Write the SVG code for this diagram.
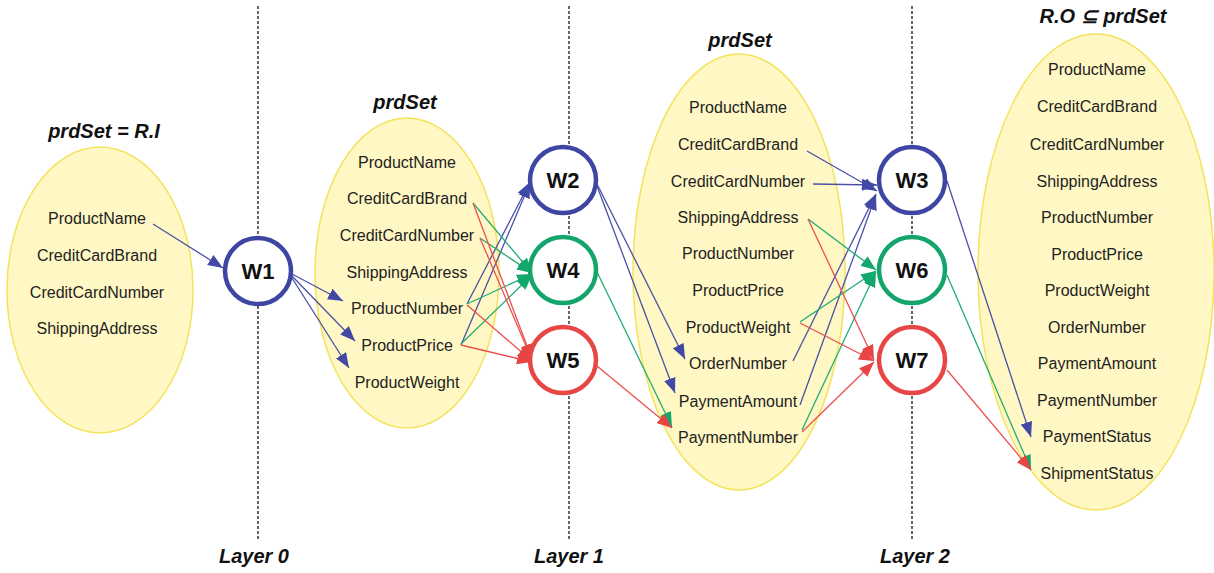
<svg xmlns="http://www.w3.org/2000/svg" width="1214" height="573" viewBox="0 0 1214 573">
<style>
.ell{fill:#fff8c4;stroke:#f3e35c;stroke-width:1.5}
.t{font-family:"Liberation Sans",Arial,sans-serif;font-size:16px;fill:#222;text-anchor:middle;dominant-baseline:central}
.ttl{font-family:"Liberation Sans",Arial,sans-serif;font-size:20px;font-weight:bold;font-style:italic;fill:#111;text-anchor:middle;dominant-baseline:central}
.lay{font-family:"Liberation Sans",Arial,sans-serif;font-size:20px;font-weight:bold;font-style:italic;fill:#111;text-anchor:middle}
.div{stroke:#333;stroke-width:1.5;stroke-dasharray:3 2;fill:none}
.nd{fill:#fff;stroke-width:4.5}
.wl{font-family:"Liberation Sans",Arial,sans-serif;font-size:22px;font-weight:bold;fill:#111;text-anchor:middle;dominant-baseline:central}
.b{stroke:#4a50a8;stroke-width:1.3;fill:none;marker-end:url(#ab)}
.g{stroke:#20ad72;stroke-width:1.3;fill:none;marker-end:url(#ag)}
.r{stroke:#ec4f4f;stroke-width:1.3;fill:none;marker-end:url(#ar)}
</style>
<defs>
<marker id="ab" markerUnits="userSpaceOnUse" markerWidth="15" markerHeight="12" refX="15" refY="6" orient="auto"><path d="M0,0 L15,6 L0,12 z" fill="#4248a6"/></marker>
<marker id="ag" markerUnits="userSpaceOnUse" markerWidth="15" markerHeight="12" refX="15" refY="6" orient="auto"><path d="M0,0 L15,6 L0,12 z" fill="#13a86b"/></marker>
<marker id="ar" markerUnits="userSpaceOnUse" markerWidth="15" markerHeight="12" refX="15" refY="6" orient="auto"><path d="M0,0 L15,6 L0,12 z" fill="#e84444"/></marker>
</defs>
<rect width="1214" height="573" fill="#fff"/>

<g id="layers">
<line class="div" x1="258" y1="6" x2="258" y2="540"/>
<line class="div" x1="569" y1="6" x2="569" y2="540"/>
<line class="div" x1="912" y1="6" x2="912" y2="540"/>
<text class="lay" x="254" y="563" textLength="70" lengthAdjust="spacingAndGlyphs">Layer 0</text>
<text class="lay" x="569" y="563" textLength="70" lengthAdjust="spacingAndGlyphs">Layer 1</text>
<text class="lay" x="915" y="563" textLength="70" lengthAdjust="spacingAndGlyphs">Layer 2</text>
</g>

<g id="set0">
<ellipse class="ell" cx="100" cy="290" rx="93" ry="143"/>
<text class="ttl" x="104" y="131">prdSet = R.I</text>
<text class="t" x="97" y="218">ProductName</text>
<text class="t" x="97" y="255">CreditCardBrand</text>
<text class="t" x="97" y="292">CreditCardNumber</text>
<text class="t" x="97" y="328">ShippingAddress</text>
</g>

<g id="set1">
<ellipse class="ell" cx="407" cy="273" rx="92" ry="155"/>
<text class="ttl" x="405" y="102">prdSet</text>
<text class="t" x="407" y="162">ProductName</text>
<text class="t" x="407" y="198">CreditCardBrand</text>
<text class="t" x="407" y="235">CreditCardNumber</text>
<text class="t" x="407" y="272">ShippingAddress</text>
<text class="t" x="407" y="308">ProductNumber</text>
<text class="t" x="407" y="345">ProductPrice</text>
<text class="t" x="407" y="382">ProductWeight</text>
</g>

<g id="set2">
<ellipse class="ell" cx="739" cy="272" rx="106" ry="218"/>
<text class="ttl" x="740" y="40">prdSet</text>
<text class="t" x="738" y="107">ProductName</text>
<text class="t" x="738" y="144">CreditCardBrand</text>
<text class="t" x="738" y="181">CreditCardNumber</text>
<text class="t" x="738" y="217">ShippingAddress</text>
<text class="t" x="738" y="253">ProductNumber</text>
<text class="t" x="738" y="290">ProductPrice</text>
<text class="t" x="738" y="327">ProductWeight</text>
<text class="t" x="738" y="363">OrderNumber</text>
<text class="t" x="738" y="401">PaymentAmount</text>
<text class="t" x="738" y="437">PaymentNumber</text>
</g>

<g id="set3">
<ellipse class="ell" cx="1096" cy="272" rx="118" ry="238"/>
<text class="ttl" x="1103" y="16">R.O ⊆ prdSet</text>
<text class="t" x="1097" y="69">ProductName</text>
<text class="t" x="1097" y="106">CreditCardBrand</text>
<text class="t" x="1097" y="144">CreditCardNumber</text>
<text class="t" x="1097" y="181">ShippingAddress</text>
<text class="t" x="1097" y="217">ProductNumber</text>
<text class="t" x="1097" y="254">ProductPrice</text>
<text class="t" x="1097" y="290">ProductWeight</text>
<text class="t" x="1097" y="327">OrderNumber</text>
<text class="t" x="1097" y="363">PaymentAmount</text>
<text class="t" x="1097" y="400">PaymentNumber</text>
<text class="t" x="1097" y="436">PaymentStatus</text>
<text class="t" x="1097" y="473">ShipmentStatus</text>
</g>

<g id="connectors">
<path class="b" d="M153,224 L223,268"/>
<path class="b" d="M292,274 L343,301"/>
<path class="b" d="M292,276 L355,341"/>
<path class="b" d="M292,278 L349,368"/>
<path class="b" d="M467,304 L530,182"/>
<path class="b" d="M461,345 L530,183"/>
<path class="b" d="M597,184 L685,359"/>
<path class="b" d="M597,186 L675,393"/>
<path class="b" d="M807,151 L877,191"/>
<path class="b" d="M813,184 L877,185"/>
<path class="b" d="M793,361 L876,194"/>
<path class="b" d="M800,405 L876,195"/>
<path class="b" d="M947,181 L1031,437"/>
<path class="g" d="M473,203 L532,273"/>
<path class="g" d="M480,238 L532,273"/>
<path class="g" d="M467,304 L532,274"/>
<path class="g" d="M461,344 L532,275"/>
<path class="g" d="M597,272 L672,427"/>
<path class="g" d="M808,219 L876,270"/>
<path class="g" d="M800,322 L876,271"/>
<path class="g" d="M802,430 L876,272"/>
<path class="g" d="M947,275 L1031,470"/>
<path class="r" d="M473,203 L532,359"/>
<path class="r" d="M480,238 L532,360"/>
<path class="r" d="M467,305 L532,361"/>
<path class="r" d="M461,345 L532,362"/>
<path class="r" d="M597,366 L672,428"/>
<path class="r" d="M808,219 L874,360"/>
<path class="r" d="M800,323 L874,361"/>
<path class="r" d="M802,432 L874,362"/>
<path class="r" d="M947,370 L1031,470"/>
</g>

<g id="W1"><circle class="nd" cx="258" cy="271" r="33" stroke="#3f45a3"/><text class="wl" x="258" y="271">W1</text></g>
<g id="W2"><circle class="nd" cx="563" cy="180" r="33" stroke="#3f45a3"/><text class="wl" x="563" y="180">W2</text></g>
<g id="W4"><circle class="nd" cx="563" cy="270" r="33" stroke="#13a56b"/><text class="wl" x="563" y="270">W4</text></g>
<g id="W5"><circle class="nd" cx="563" cy="360" r="33" stroke="#e84545"/><text class="wl" x="563" y="360">W5</text></g>
<g id="W3"><circle class="nd" cx="912" cy="180" r="33" stroke="#3f45a3"/><text class="wl" x="912" y="180">W3</text></g>
<g id="W6"><circle class="nd" cx="912" cy="270" r="33" stroke="#13a56b"/><text class="wl" x="912" y="270">W6</text></g>
<g id="W7"><circle class="nd" cx="912" cy="360" r="33" stroke="#e84545"/><text class="wl" x="912" y="360">W7</text></g>
</svg>
